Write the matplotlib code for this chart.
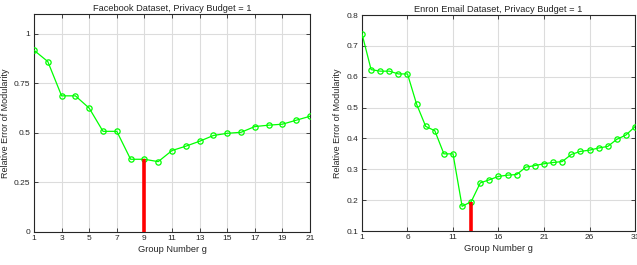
import numpy as np
import matplotlib.pyplot as plt

plt.rcParams['font.family'] = ['Liberation Sans', 'DejaVu Sans']
plt.rcParams['font.size'] = 6.5

# Facebook dataset
fb_groups = list(range(1, 22))
fb_error = [0.917, 0.860, 0.687, 0.687, 0.625, 0.508, 0.508, 0.367, 0.367, 0.355,
            0.411, 0.433, 0.458, 0.487, 0.498, 0.503, 0.532, 0.539, 0.544, 0.564, 0.584]
fb_best = 9
fb_xticks = [1, 3, 5, 7, 9, 11, 13, 15, 17, 19, 21]
fb_yticks = [0, 0.25, 0.5, 0.75, 1]
fb_yticklabels = ['0', '0.25', '0.5', '0.75', '1']

# Enron email dataset
en_groups = list(range(1, 32))
en_error = [0.739, 0.623, 0.618, 0.618, 0.609, 0.609, 0.511, 0.439, 0.425, 0.350,
            0.350, 0.180, 0.195, 0.256, 0.266, 0.277, 0.281, 0.283, 0.307, 0.312,
            0.318, 0.322, 0.325, 0.348, 0.358, 0.362, 0.369, 0.374, 0.397, 0.411, 0.438]
en_best = 13
en_xticks = [1, 6, 11, 16, 21, 26, 31]
en_yticks = [0.1, 0.2, 0.3, 0.4, 0.5, 0.6, 0.7, 0.8]
en_yticklabels = ['0.1', '0.2', '0.3', '0.4', '0.5', '0.6', '0.7', '0.8']

fig = plt.figure(figsize=(6.37, 2.65), dpi=100)
ax1 = fig.add_axes([34 / 637, 1 - 232 / 265, 276 / 637, 218 / 265])
ax2 = fig.add_axes([362 / 637, 1 - 231 / 265, 273 / 637, 216 / 265])


def draw(ax, g, err, best, ylim, xticks, yticks, yticklabels, title):
    ax.plot(g, err, color='#00ff00', lw=0.9, marker='o', ms=3.8,
            mfc='none', mec='#00ff00', mew=0.9, zorder=3)
    ax.vlines(best, ylim[0], err[g.index(best)], color='#ff0000', lw=2.6, zorder=4)
    ax.set_xlim(g[0], g[-1])
    ax.set_ylim(*ylim)
    ax.set_xticks(xticks)
    ax.set_yticks(yticks)
    ax.set_yticklabels(yticklabels)
    ax.grid(True, color='#dcdcdc', lw=0.8)
    ax.set_axisbelow(True)
    ax.tick_params(direction='in', length=3, width=0.6, top=True, right=True,
                   colors='#262626', pad=2.5, labelsize=6)
    for s in ax.spines.values():
        s.set_color('#262626')
        s.set_linewidth(0.8)
    ax.set_title(title, fontsize=6.7, color='#262626', pad=2)
    ax.set_xlabel('Group Number g', fontsize=6.7, color='#262626', labelpad=2)
    ax.set_ylabel('Relative Error of Modularity', fontsize=6.5, color='#262626', labelpad=3)


draw(ax1, fb_groups, fb_error, fb_best, (0, 1.1), fb_xticks, fb_yticks, fb_yticklabels,
     'Facebook Dataset, Privacy Budget = 1')
draw(ax2, en_groups, en_error, en_best, (0.1, 0.8), en_xticks, en_yticks, en_yticklabels,
     'Enron Email Dataset, Privacy Budget = 1')

fig.savefig('out.png', dpi=100)
